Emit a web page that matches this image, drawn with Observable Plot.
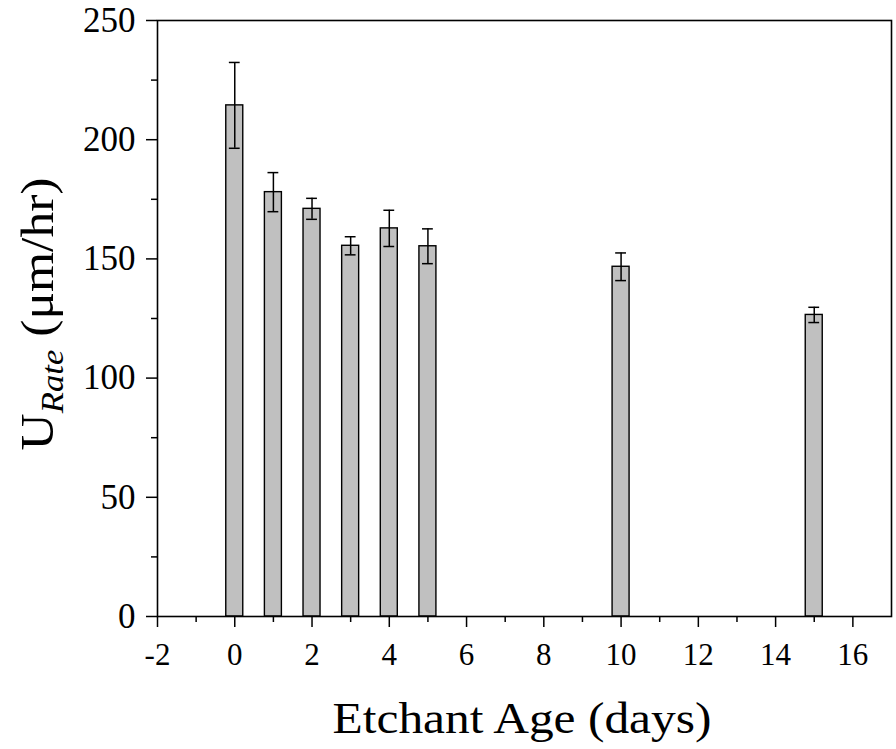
<!DOCTYPE html>
<html>
<head>
<meta charset="utf-8">
<script src="https://cdn.jsdelivr.net/npm/d3@7"></script>
<script src="https://cdn.jsdelivr.net/npm/@observablehq/plot@0.6"></script>
<style>
  html, body { margin: 0; padding: 0; background: #fff; }
  #chart { width: 896px; height: 749px; }
  svg { font-family: "Liberation Serif", "Times New Roman", serif; }
</style>
</head>
<body>
<div id="chart"></div>
<script>
const ages = [0, 1, 2, 3, 4, 5, 10, 15];
const rates = [214.4, 178.0, 171.0, 155.5, 162.8, 155.3, 146.7, 126.5];
const errors = [18.0, 8.2, 4.4, 3.8, 7.6, 7.3, 5.8, 3.2];
const xMajorTicks = [-2, 0, 2, 4, 6, 8, 10, 12, 14, 16];
const xMinorTicks = [-1, 1, 3, 5, 7, 9, 11, 13, 15];
const yMajorTicks = [0, 50, 100, 150, 200, 250];
const yMinorTicks = [25, 75, 125, 175, 225];

const data = ages.map((a, i) => ({age: a, rate: rates[i], err: errors[i]}));
const halfBar = 0.22;
const halfCap = 0.14;

const chart = Plot.plot({
  width: 896,
  height: 749,
  marginLeft: 157,
  marginRight: 5,
  marginTop: 20,
  marginBottom: 133,
  style: {fontFamily: '"Liberation Serif", "Times New Roman", serif', background: "#fff", color: "#000"},
  x: {domain: [-2, 17], label: null},
  y: {domain: [0, 250], label: null},
  marks: [
    Plot.rectY(data, {x1: d => d.age - halfBar, x2: d => d.age + halfBar, y: "rate", fill: "#c0c0c0", stroke: "#000", strokeWidth: 1.4}),
    Plot.ruleX(data, {x: "age", y1: d => d.rate - d.err, y2: d => d.rate + d.err, stroke: "#000", strokeWidth: 1.5}),
    Plot.ruleY(data, {y: d => d.rate + d.err, x1: d => d.age - halfCap, x2: d => d.age + halfCap, stroke: "#000", strokeWidth: 1.5}),
    Plot.ruleY(data, {y: d => d.rate - d.err, x1: d => d.age - halfCap, x2: d => d.age + halfCap, stroke: "#000", strokeWidth: 1.5}),
    Plot.frame({stroke: "#000", strokeWidth: 1.6}),
    Plot.axisX(xMajorTicks, {tickSize: 11, tickPadding: 15, fontSize: 31, strokeWidth: 1.5, label: null, tickFormat: d => String(d)}),
    Plot.axisX(xMinorTicks, {tickSize: 6, strokeWidth: 1.5, label: null, tickFormat: () => ""}),
    Plot.axisY(yMajorTicks, {tickSize: 11, tickPadding: 11, fontSize: 35, strokeWidth: 1.5, label: null}),
    Plot.axisY(yMinorTicks, {tickSize: 6, strokeWidth: 1.5, label: null, tickFormat: () => ""})
  ]
});

const svg = d3.select(chart);
// x axis title
svg.append("text")
  .attr("x", 522)
  .attr("y", 733)
  .attr("text-anchor", "middle")
  .attr("font-size", 45)
  .attr("textLength", 379)
  .attr("lengthAdjust", "spacingAndGlyphs")
  .attr("fill", "#000")
  .text("Etchant Age (days)");
// y axis title with subscript
const yt = svg.append("text")
  .attr("transform", "translate(53,314) rotate(-90) scale(1.12,1)")
  .attr("text-anchor", "middle")
  .attr("font-size", 46)
  .attr("fill", "#000");
yt.append("tspan").text("U");
yt.append("tspan").attr("font-size", 31).attr("font-style", "italic").attr("dy", 10).text("Rate");
yt.append("tspan").attr("dy", -10).text(" (\u03bcm/hr)");

document.getElementById("chart").appendChild(chart);
</script>
</body>
</html>
